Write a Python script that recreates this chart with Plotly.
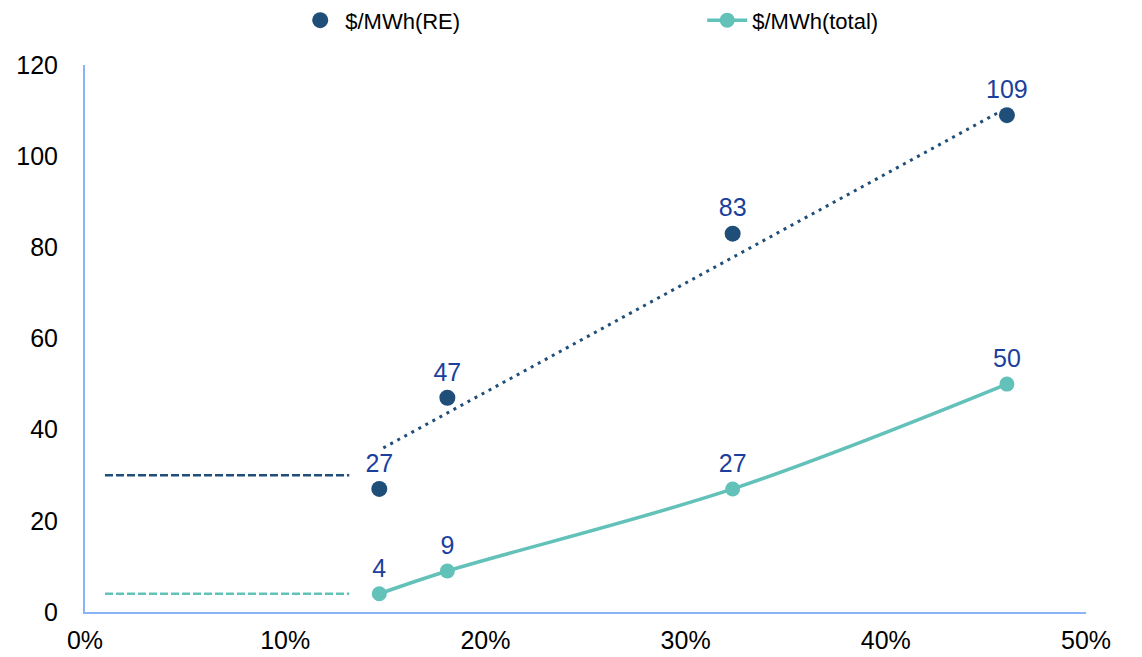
import plotly.graph_objects as go

# Renewable share (x, %) and cost ($/MWh)
share_pct = [14.7, 18.1, 32.35, 46.05]
cost_re = [27, 47, 83, 109]
cost_total = [4, 9, 27, 50]

# Linear trend of the RE cost over the data range
trend_x = [14.9, 45.8]
trend_y = [36, 110]

# Baseline reference levels drawn on the left
base_x = [1.0, 13.2]
base_re = [30, 30]
base_total = [4, 4]

NAVY = "#1F4E79"
TEAL = "#62C1B8"
LABEL = "#1B3F9C"
AXIS = "#8AB4F8"
FONT = "Liberation Sans, Arial, sans-serif"

fig = go.Figure()

fig.add_trace(go.Scatter(
    x=base_x, y=base_re, mode="lines", showlegend=False, hoverinfo="skip",
    line=dict(color=NAVY, width=2.5, dash="8px,3px")))
fig.add_trace(go.Scatter(
    x=base_x, y=base_total, mode="lines", showlegend=False, hoverinfo="skip",
    line=dict(color=TEAL, width=2.5, dash="8px,3px")))
fig.add_trace(go.Scatter(
    x=trend_x, y=trend_y, mode="lines", showlegend=False, hoverinfo="skip",
    line=dict(color=NAVY, width=3, dash="3px,5px")))

fig.add_trace(go.Scatter(
    x=share_pct, y=cost_re, mode="markers+text", name="$/MWh(RE)",
    marker=dict(color=NAVY, size=16),
    text=[str(v) for v in cost_re], textposition="top center",
    textfont=dict(color=LABEL, size=25, family=FONT)))
fig.add_trace(go.Scatter(
    x=share_pct, y=cost_total, mode="lines+markers+text", name="$/MWh(total)",
    line=dict(color=TEAL, width=3.5, shape="spline", smoothing=1.0),
    marker=dict(color=TEAL, size=15),
    text=[str(v) for v in cost_total], textposition="top center",
    textfont=dict(color=LABEL, size=25, family=FONT)))

fig.update_layout(
    width=1142, height=657,
    margin=dict(l=85, r=56, t=65, b=45, autoexpand=False),
    paper_bgcolor="white", plot_bgcolor="white",
    font=dict(family=FONT, size=25, color="black"),
    legend=dict(orientation="h", x=0.21, xanchor="left", y=1.12, yanchor="top",
                entrywidth=352, font=dict(size=22), itemwidth=40),
    xaxis=dict(range=[0, 50], tickvals=[0, 10, 20, 30, 40, 50],
               ticktext=["0%", "10%", "20%", "30%", "40%", "50%"],
               showgrid=False, zeroline=False, showline=True, linecolor=AXIS,
               linewidth=2, ticks="", ticklabelstandoff=5, automargin=False),
    yaxis=dict(range=[0, 120], tickvals=[0, 20, 40, 60, 80, 100, 120],
               showgrid=False, zeroline=False, showline=True, linecolor=AXIS,
               linewidth=2, ticks="", ticklabelstandoff=20, automargin=False),
)

fig.write_html("out.html")
